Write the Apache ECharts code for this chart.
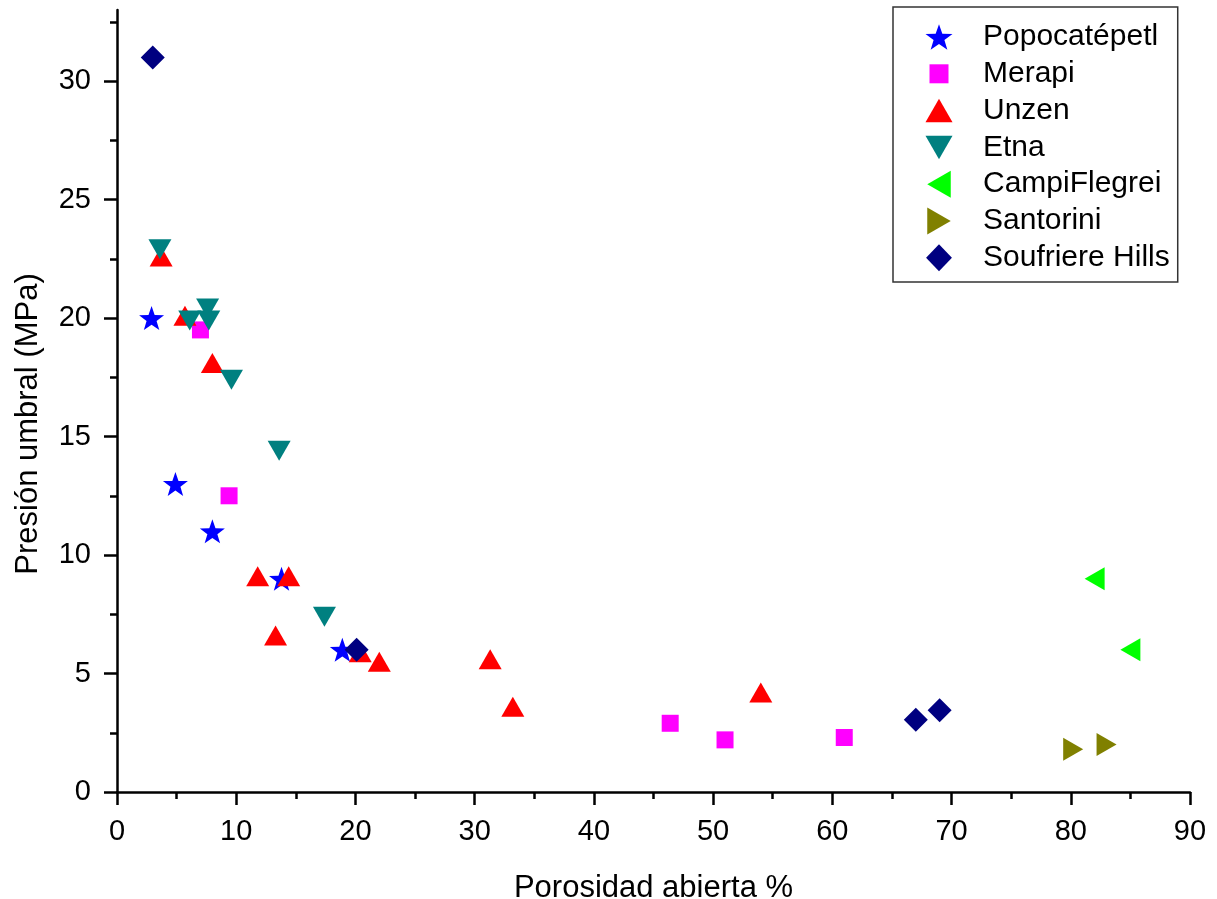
<!DOCTYPE html>
<html>
<head>
<meta charset="utf-8">
<title>Presión umbral vs porosidad abierta</title>
<script src="https://cdn.jsdelivr.net/npm/echarts@6/dist/echarts.min.js"></script>
<style>
  html, body { margin: 0; padding: 0; background: #ffffff; }
  #chart { width: 1217px; height: 899px; }
</style>
</head>
<body>
<div id="chart"></div>
<script>
// Threshold pressure (MPa) against open porosity (%) for each volcano: [porosity, pressure]
const popocatepetl = [[2.9, 20.0], [4.9, 13.0], [8.0, 11.0], [13.8, 9.0], [18.9, 6.0]];
const merapi = [[7.0, 19.5], [9.4, 12.5], [46.4, 2.9], [51.0, 2.2], [61.0, 2.3]];
const unzen = [[3.7, 22.6], [5.7, 20.1], [8.0, 18.1], [11.8, 9.1], [13.3, 6.6], [14.4, 9.1],
               [20.4, 5.9], [22.0, 5.5], [31.3, 5.6], [33.2, 3.6], [54.0, 4.2]];
const etna = [[3.6, 22.9], [6.1, 19.9], [7.6, 20.4], [7.7, 19.9], [9.6, 17.4], [13.6, 14.4], [17.4, 7.4]];
const campiFlegrei = [[82.0, 9.0], [85.0, 6.0]];
const santorini = [[80.2, 1.8], [83.0, 2.0]];
const soufriereHills = [[3.0, 31.0], [20.1, 6.0], [67.0, 3.05], [69.0, 3.45]];

// Axis ticks
const xTicks = [0, 10, 20, 30, 40, 50, 60, 70, 80, 90];
const yTicks = [0, 5, 10, 15, 20, 25, 30];
const yMinorTicks = [2.5, 7.5, 12.5, 17.5, 22.5, 27.5, 32.5];

const FONT = '"Liberation Sans", Arial, sans-serif';

// Marker shapes
const STAR = 'path://M50,0 L61.76,33.82 L97.55,34.55 L69.02,56.18 L79.39,90.45 L50,70 L20.61,90.45 L30.98,56.18 L2.45,34.55 L38.24,33.82 Z';
const ICON_SQUARE = 'path://M0,0 M4,4 L23,4 L23,23 L4,23 Z M27,27';
const ICON_UP = 'path://M11.5,0 L23,20 L0,20 Z';
const ICON_DOWN = 'path://M0,0 L23,0 L11.5,20 Z';
const ICON_LEFT = 'path://M0,11.5 L20,0 L20,23 Z';
const ICON_RIGHT = 'path://M0,0 L20,11.5 L0,23 Z';
const ICON_DIAMOND = 'path://M11.5,0 L23,12 L11.5,24 L0,12 Z';

function scatter(name, data, color, symbol, size, rotate) {
  return {
    name: name,
    type: 'scatter',
    data: data,
    symbol: symbol,
    symbolSize: size,
    symbolRotate: rotate || 0,
    itemStyle: { color: color, opacity: 1 },
    emphasis: { disabled: true },
    animation: false
  };
}

const chart = echarts.init(document.getElementById('chart'), null, { renderer: 'canvas' });

chart.setOption({
  backgroundColor: '#ffffff',
  animation: false,
  grid: { left: 117, right: 27, top: 10, bottom: 107, containLabel: false, outerBoundsMode: 'none' },
  legend: {
    orient: 'vertical',
    left: 893,
    top: 7,
    padding: [15, 8, 9.2, 32.5],
    itemWidth: 27,
    itemHeight: 27,
    itemGap: 6.8,
    backgroundColor: '#ffffff',
    borderColor: '#333333',
    borderWidth: 1.5,
    borderRadius: 0,
    selectedMode: false,
    textStyle: { fontFamily: FONT, fontSize: 30, color: '#000000', lineHeight: 30, padding: [0, 0, 0, 25.5] },
    data: [
      { name: 'Popocatépetl', icon: STAR },
      { name: 'Merapi', icon: ICON_SQUARE },
      { name: 'Unzen', icon: ICON_UP },
      { name: 'Etna', icon: ICON_DOWN },
      { name: 'CampiFlegrei', icon: ICON_LEFT },
      { name: 'Santorini', icon: ICON_RIGHT },
      { name: 'Soufriere Hills', icon: ICON_DIAMOND }
    ]
  },
  xAxis: {
    type: 'value',
    min: xTicks[0],
    max: xTicks[xTicks.length - 1],
    interval: 10,
    name: 'Porosidad abierta %',
    nameLocation: 'middle',
    nameGap: 81,
    nameTextStyle: { fontFamily: FONT, fontSize: 31, color: '#000000' },
    axisLine: { show: true, onZero: false, lineStyle: { color: '#000000', width: 2.5 } },
    axisTick: { show: true, inside: false, length: 13, lineStyle: { color: '#000000', width: 2.5 } },
    minorTick: { show: true, splitNumber: 2, length: 7, lineStyle: { color: '#000000', width: 2.5 } },
    axisLabel: { fontFamily: FONT, fontSize: 29, color: '#000000', margin: 25 },
    splitLine: { show: false }
  },
  yAxis: [
    {
      type: 'value',
      position: 'left',
      min: 0,
      max: 33,
      interval: 5,
      name: 'Presión umbral (MPa)',
      nameLocation: 'middle',
      nameGap: 73,
      nameRotate: 90,
      nameTextStyle: { fontFamily: FONT, fontSize: 31, color: '#000000', padding: [0, 46, 0, 0] },
      axisLine: { show: true, onZero: false, lineStyle: { color: '#000000', width: 2.5 } },
      axisTick: { show: true, inside: false, length: 13, customValues: yTicks, lineStyle: { color: '#000000', width: 2.5 } },
      axisLabel: { fontFamily: FONT, fontSize: 29, color: '#000000', margin: 26, customValues: yTicks },
      splitLine: { show: false }
    },
    {
      type: 'value',
      position: 'left',
      offset: 0,
      min: 0,
      max: 33,
      axisLine: { show: false },
      axisTick: { show: true, inside: false, length: 7, customValues: yMinorTicks, lineStyle: { color: '#000000', width: 2.5 } },
      axisLabel: { show: false },
      splitLine: { show: false }
    }
  ],
  series: [
    scatter('Popocatépetl', popocatepetl, '#0000ff', STAR, [25, 24]),
    scatter('Merapi', merapi, '#ff00ff', 'rect', [17, 17]),
    scatter('Unzen', unzen, '#ff0000', 'triangle', [23, 20]),
    scatter('Etna', etna, '#008080', 'triangle', [23, 20], 180),
    scatter('CampiFlegrei', campiFlegrei, '#00ff00', 'triangle', [23, 20], 90),
    scatter('Santorini', santorini, '#808000', 'triangle', [23, 20], -90),
    scatter('Soufriere Hills', soufriereHills, '#000080', 'diamond', [24, 24])
  ]
});
</script>
</body>
</html>
